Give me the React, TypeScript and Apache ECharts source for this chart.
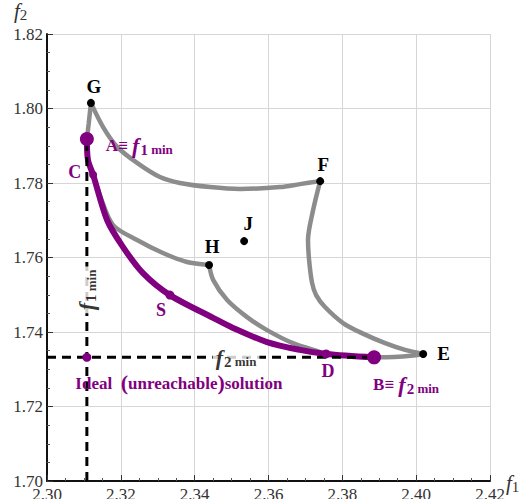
import React, { useEffect, useRef } from "react";
import * as echarts from "echarts";

const SERIF = "'Liberation Serif', 'DejaVu Serif', serif";
const PURPLE = "#800080";
const GRAY = "#8c8c8c";

// Axis ranges (f1 horizontal, f2 vertical)
const f1Ticks = [2.3, 2.32, 2.34, 2.36, 2.38, 2.4, 2.42];
const f2Ticks = [1.7, 1.72, 1.74, 1.76, 1.78, 1.8, 1.82];

// Individual minima
const f1Min = 2.3108;
const f2Min = 1.7332;

// Pareto front A -> C -> S -> D -> B
const paretoFront = [
  [2.3108, 1.7918], [2.3111, 1.7862], [2.3125, 1.7822], [2.3163, 1.77],
  [2.3206, 1.7628], [2.326, 1.7558], [2.3333, 1.7499], [2.345, 1.7438],
  [2.3504, 1.7411], [2.3596, 1.7373], [2.3685, 1.7352], [2.3756, 1.7341],
  [2.3886, 1.7332],
];

// Boundary curves of the attainable region
const curveGA = [[2.3119, 1.8015], [2.3113, 1.796], [2.3108, 1.7918]];
const curveGF = [
  [2.3119, 1.8015], [2.3152, 1.795], [2.319, 1.7897], [2.3244, 1.7854],
  [2.3306, 1.7816], [2.336, 1.78], [2.3442, 1.7789], [2.3523, 1.7784],
  [2.3631, 1.7789], [2.3685, 1.7797], [2.374, 1.7805],
];
const curveCH = [
  [2.3125, 1.7822], [2.3144, 1.7765], [2.3179, 1.7687], [2.3244, 1.7647],
  [2.3314, 1.7612], [2.3379, 1.7588], [2.3439, 1.758],
];
const curveHD = [
  [2.3439, 1.758], [2.345, 1.754], [2.3488, 1.7486], [2.3542, 1.744],
  [2.3596, 1.7405], [2.3666, 1.737], [2.374, 1.7346], [2.3756, 1.7341],
];
const curveFE = [
  [2.374, 1.7805], [2.3721, 1.7728], [2.3707, 1.7647], [2.371, 1.7593],
  [2.3718, 1.7532], [2.3729, 1.7499], [2.3753, 1.7467], [2.3802, 1.7424],
  [2.3853, 1.7397], [2.3916, 1.737], [2.397, 1.7352], [2.4019, 1.7341],
];
const curveBE = [[2.3886, 1.7332], [2.394, 1.7333], [2.3985, 1.7336], [2.4019, 1.7341]];

// Named points
const blackNames = ["G", "F", "J", "H", "E"];
const blackCoords = [
  [2.3119, 1.8015], [2.374, 1.7805], [2.3534, 1.7644], [2.3439, 1.758], [2.4019, 1.7341],
];
const purpleNames = ["A", "C", "S", "D", "B", "Ideal"];
const purpleCoords = [
  [2.3108, 1.7918], [2.3125, 1.7822], [2.3333, 1.7499], [2.3756, 1.7341],
  [2.3886, 1.7332], [2.3108, 1.7332],
];

const purpleSizes: Record<string, number> = { A: 14, C: 8, S: 9, D: 9, B: 14, Ideal: 9 };

const subRich = (color: string) => ({
  t: { fontFamily: SERIF, fontWeight: "bold", fontSize: 17, color },
  f: { fontFamily: SERIF, fontWeight: "bold", fontStyle: "italic", fontSize: 22, color },
  s: { fontFamily: SERIF, fontWeight: "bold", fontSize: 15, color, padding: [9, 0, 0, 1] },
  m: { fontFamily: SERIF, fontWeight: "bold", fontSize: 13, color, padding: [9, 0, 0, 0] },
  p: { fontFamily: SERIF, fontWeight: "bold", fontSize: 22, color, padding: [0, 0, 2, 0] },
});

const blackLabel: Record<string, any> = {
  G: { position: "top", distance: 3, offset: [3, 0] },
  F: { position: "top", distance: 3, offset: [3, 0] },
  J: { position: "top", distance: 4, offset: [4, 0] },
  H: { position: "top", distance: 5, offset: [3, 0] },
  E: { position: "right", distance: 10 },
};

const purpleLabel: Record<string, any> = {
  A: { position: "right", distance: 12, offset: [0, 6], formatter: "{t|A≡ }{f|f}{s|1}{m| min}" },
  C: { position: "left", distance: 8, offset: [0, -3], formatter: "C" },
  S: { position: "bottom", distance: 1, offset: [-9, 0], formatter: "S" },
  D: { position: "bottom", distance: 4, offset: [2, 0], formatter: "D" },
  B: { position: "bottom", distance: 8, offset: [32, 0], formatter: "{t|B≡ }{f|f}{s|2}{m| min}" },
  Ideal: {
    position: "bottom",
    distance: 10,
    offset: [92, 0],
    formatter: "{t|Ideal  }{p|(}{t|unreachable}{p|)}{t|solution}",
  },
};

const grayLine = (data: number[][]) => ({
  type: "line",
  data,
  smooth: 0.3,
  symbol: "none",
  lineStyle: { color: GRAY, width: 4.5 },
  z: 2,
  silent: true,
});

const axisCommon = {
  type: "value",
  interval: 0.02,
  axisLine: { show: true, onZero: false, lineStyle: { color: "#111", width: 2 } },
  axisTick: { show: true, inside: true, length: 6, lineStyle: { color: "#333" } },
  minorTick: { show: true, splitNumber: 4, length: 3, lineStyle: { color: "#555" } },
  splitLine: { show: true, lineStyle: { color: "#d6d6d6", width: 1 } },
};

const axisNameStyle = {
  f: { fontFamily: SERIF, fontStyle: "italic", fontSize: 21, fill: "#333" },
  s: { fontFamily: SERIF, fontSize: 15, fill: "#333", padding: [9, 0, 0, 0] },
};

const option: any = {
  animation: false,
  backgroundColor: "#fff",
  textStyle: { fontFamily: SERIF },
  grid: {
    left: 47,
    top: 34,
    right: 34,
    bottom: 18,
    containLabel: false,
    outerBoundsMode: "none",
  },
  xAxis: {
    ...axisCommon,
    min: f1Ticks[0],
    max: f1Ticks[f1Ticks.length - 1],
    axisLabel: {
      margin: 5,
      fontFamily: SERIF,
      fontSize: 17,
      color: "#333",
      formatter: (v: number) => v.toFixed(2),
    },
  },
  yAxis: {
    ...axisCommon,
    min: f2Ticks[0],
    max: f2Ticks[f2Ticks.length - 1],
    axisLabel: {
      margin: 4,
      fontFamily: SERIF,
      fontSize: 17,
      color: "#333",
      formatter: (v: number) => v.toFixed(2),
    },
  },
  graphic: [
    { type: "text", left: 14, top: 0, style: { text: "{f|f}{s|2}", rich: axisNameStyle } },
    { type: "text", left: 506, top: 472, style: { text: "{f|f}{s|1}", rich: axisNameStyle } },
  ],
  series: [
    grayLine(curveGA),
    grayLine(curveGF),
    grayLine(curveCH),
    grayLine(curveHD),
    grayLine(curveFE),
    grayLine(curveBE),
    {
      type: "line",
      data: paretoFront,
      smooth: 0.3,
      symbol: "none",
      lineStyle: { color: PURPLE, width: 6 },
      z: 3,
      silent: true,
    },
    {
      type: "line",
      data: [[f1Min, f2Ticks[0]], [f1Min, paretoFront[0][1]]],
      symbol: "none",
      lineStyle: { color: "#000", width: 3, type: [9, 6] },
      z: 4,
      silent: true,
    },
    {
      type: "line",
      data: [[f1Ticks[0], f2Min], [paretoFront[paretoFront.length - 1][0], f2Min]],
      symbol: "none",
      lineStyle: { color: "#000", width: 3, type: [9, 6] },
      z: 4,
      silent: true,
    },
    {
      type: "scatter",
      z: 5,
      silent: true,
      data: blackNames.map((n, i) => ({
        name: n,
        value: blackCoords[i],
        label: {
          show: true,
          formatter: n,
          fontFamily: SERIF,
          fontWeight: "bold",
          fontSize: 19,
          color: "#000",
          ...blackLabel[n],
        },
      })),
      symbolSize: 8,
      itemStyle: { color: "#000", opacity: 1 },
    },
    {
      type: "scatter",
      z: 6,
      silent: true,
      data: purpleNames.map((n, i) => ({
        name: n,
        value: purpleCoords[i],
        symbolSize: purpleSizes[n],
        label: {
          show: true,
          fontFamily: SERIF,
          fontWeight: "bold",
          fontSize: 18,
          color: PURPLE,
          rich: subRich(PURPLE),
          ...purpleLabel[n],
        },
      })),
      itemStyle: { color: PURPLE, opacity: 1 },
    },
    {
      type: "scatter",
      z: 7,
      silent: true,
      symbolSize: 0,
      data: [
        {
          value: [2.3512, f2Min],
          label: {
            show: true,
            position: "inside",
            backgroundColor: "#fff",
            padding: [0, 3, 0, 3],
            formatter: "{f|f}{s|2}{m| min}",
            rich: subRich("#000"),
          },
        },
        {
          value: [f1Min, 1.7513],
          label: {
            show: true,
            position: "inside",
            rotate: 90,
            backgroundColor: "#fff",
            padding: [0, 3, 0, 3],
            formatter: "{f|f}{s|1}{m| min}",
            rich: subRich("#000"),
          },
        },
      ],
    },
  ],
};

export default function App() {
  const ref = useRef<HTMLDivElement>(null);
  useEffect(() => {
    const chart = echarts.init(ref.current!, null, { renderer: "svg" });
    chart.setOption(option);
    return () => chart.dispose();
  }, []);
  return (
    <div
      ref={ref}
      style={{ position: "fixed", left: 0, top: 0, width: 524, height: 499, background: "#fff" }}
    />
  );
}
